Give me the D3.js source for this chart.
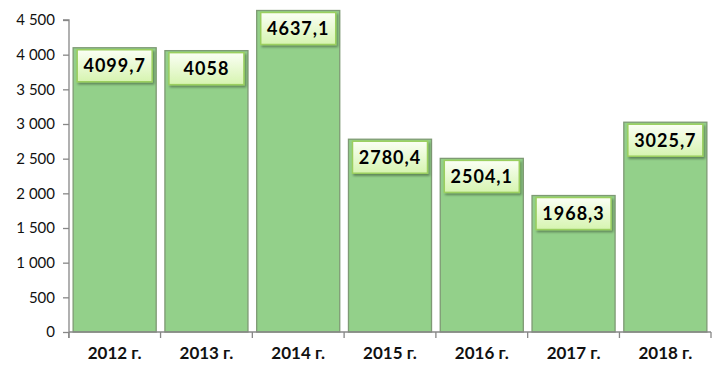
<!DOCTYPE html>
<html>
<head>
<meta charset="utf-8">
<script src="https://cdn.jsdelivr.net/npm/d3@7"></script>
<style>
  body { margin: 0; background: #fff; }
  svg { display: block; }
</style>
</head>
<body>
<div id="chart"></div>
<script>
// chart data
var years = ["2012 г.", "2013 г.", "2014 г.", "2015 г.", "2016 г.", "2017 г.", "2018 г."];
var values = [4099.7, 4058, 4637.1, 2780.4, 2504.1, 1968.3, 3025.7];
var labels = ["4099,7", "4058", "4637,1", "2780,4", "2504,1", "1968,3", "3025,7"];
var yTicks = [0, 500, 1000, 1500, 2000, 2500, 3000, 3500, 4000, 4500];

(function() {
  var w = 718, h = 372;
  var mLeft = 69, mRight = 711, mTop = 20, mBottom = 332;
  var font = "Lato, 'Open Sans', sans-serif";

  var svg = d3.select("#chart").append("svg")
    .attr("width", w)
    .attr("height", h);

  var defs = svg.append("defs");
  var grad = defs.append("linearGradient")
    .attr("id", "boxgrad")
    .attr("x1", 0).attr("y1", 0).attr("x2", 0).attr("y2", 1);
  grad.append("stop").attr("offset", "0%").attr("stop-color", "#fbfff5");
  grad.append("stop").attr("offset", "100%").attr("stop-color", "#d6f4b0");

  var shadow = defs.append("filter").attr("id", "shadow")
    .attr("x", "-20%").attr("y", "-20%").attr("width", "150%").attr("height", "160%");
  shadow.append("feDropShadow")
    .attr("dx", 1.5).attr("dy", 2).attr("stdDeviation", 1.2)
    .attr("flood-color", "#000").attr("flood-opacity", 0.35);

  var x = d3.scaleBand()
    .domain(years)
    .range([mLeft, mRight])
    .paddingInner(0.095)
    .paddingOuter(0.045);

  var y = d3.scaleLinear()
    .domain([0, 4500])
    .range([mBottom, mTop]);

  // bars
  svg.selectAll("rect.bar")
    .data(values)
    .enter()
    .append("rect")
    .attr("class", "bar")
    .attr("x", function(d, i) { return x(years[i]); })
    .attr("y", function(d) { return y(d); })
    .attr("width", x.bandwidth())
    .attr("height", function(d) { return y(0) - y(d); })
    .attr("fill", "#93d08a")
    .attr("stroke", "#7e9a74")
    .attr("stroke-width", 1.3);

  // y axis
  var yAxis = svg.append("g")
    .attr("transform", "translate(" + mLeft + ",0)")
    .call(d3.axisLeft(y).tickValues(yTicks).tickSize(6).tickPadding(8)
      .tickFormat(function(d) { return d3.format(",")(d).replace(",", " "); }));
  yAxis.selectAll("text")
    .attr("font-family", font)
    .attr("font-size", "15px")
    .attr("fill", "#111");

  // x axis
  var xAxis = svg.append("g")
    .attr("transform", "translate(0," + mBottom + ")")
    .call(d3.axisBottom(x).tickSize(0).tickPadding(15));
  xAxis.selectAll("text")
    .attr("font-family", font)
    .attr("font-weight", "bold")
    .attr("font-size", "17px")
    .attr("fill", "#111");
  xAxis.selectAll(".tick line").remove();

  // category separators on the x axis
  var bounds = years.map(function(d) { return x(d) - x.step() * x.paddingInner() / 2; });
  bounds.push(mRight);
  xAxis.selectAll("line.sep")
    .data(bounds)
    .enter()
    .append("line")
    .attr("class", "sep")
    .attr("x1", function(d) { return d; })
    .attr("x2", function(d) { return d; })
    .attr("y1", 0)
    .attr("y2", 6);

  svg.selectAll(".domain, .tick line, line.sep")
    .attr("stroke", "#878787")
    .attr("stroke-width", 1.3);
  yAxis.select(".domain").attr("d", "M-6," + mTop + "H0V" + (mBottom + 6));
  xAxis.select(".domain").attr("d", "M" + mLeft + ",0H" + mRight);

  // value labels
  var boxW = 75, boxH = 32;
  var lab = svg.selectAll("g.lab")
    .data(values)
    .enter()
    .append("g")
    .attr("class", "lab")
    .attr("transform", function(d, i) {
      return "translate(" + (x(years[i]) + x.bandwidth() / 2) + "," + (y(d) + 2) + ")";
    });

  lab.append("rect")
    .attr("x", -boxW / 2)
    .attr("y", 0)
    .attr("width", boxW)
    .attr("height", boxH)
    .attr("fill", "url(#boxgrad)")
    .attr("stroke", "#9bcf5f")
    .attr("stroke-width", 1.5)
    .attr("filter", "url(#shadow)");

  lab.append("text")
    .text(function(d, i) { return labels[i]; })
    .attr("text-anchor", "middle")
    .attr("x", 0)
    .attr("y", boxH / 2)
    .attr("dy", "0.36em")
    .attr("font-family", font)
    .attr("font-weight", "bold")
    .attr("font-size", "18px")
    .attr("letter-spacing", "1px")
    .attr("fill", "#000");
})();
</script>
</body>
</html>
